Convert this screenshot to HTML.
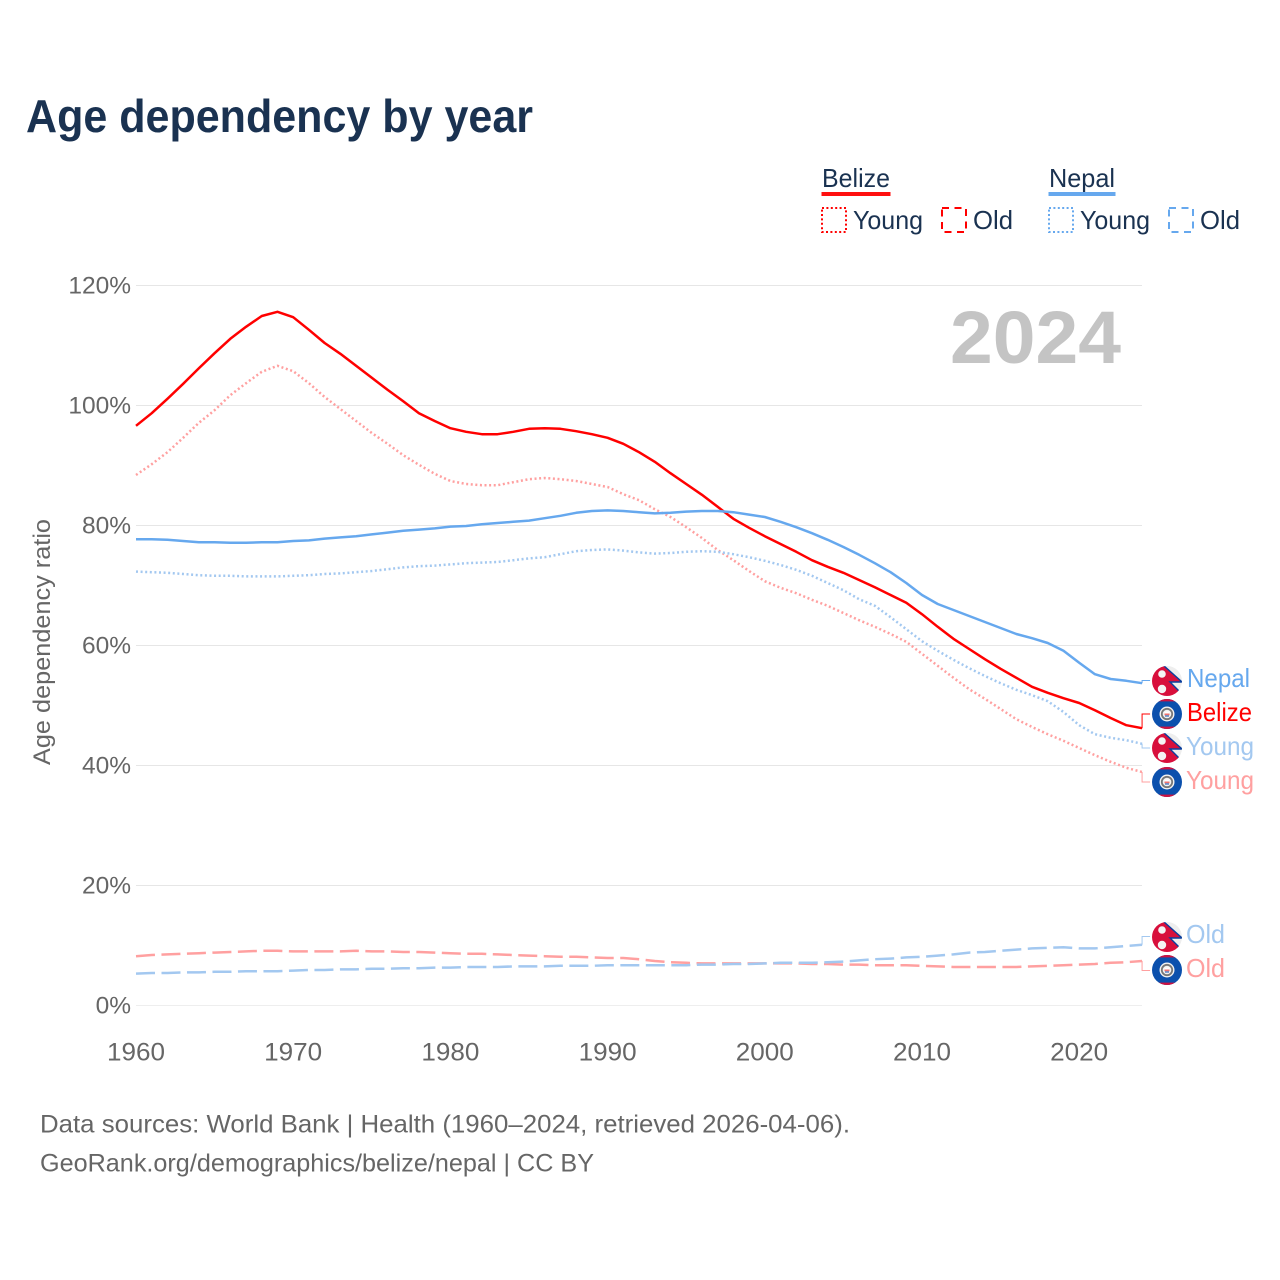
<!DOCTYPE html>
<html lang="en">
<head>
<meta charset="utf-8">
<title>Age dependency by year</title>
<style>
html,body{margin:0;padding:0;background:#fff;}
svg{display:block;font-family:"Liberation Sans",sans-serif;}
</style>
</head>
<body>
<svg id="chart" xmlns="http://www.w3.org/2000/svg" width="1280" height="1280" viewBox="0 0 1280 1280">
  <defs>
    <clipPath id="flag-clip"><circle cx="0" cy="0" r="15"/></clipPath>
    <g id="flag-nepal" clip-path="url(#flag-clip)">
      <rect x="-16" y="-16" width="32" height="32" fill="#eeeeee"/>
      <polygon points="-16,-16 -4,-16 15,1 3,1 15,13 15,16 -16,16" fill="#d80f3c" stroke="#0a3f9e" stroke-width="1.4"/>
      <circle cx="-5" cy="-7" r="3.8" fill="#f4f4f4"/>
      <circle cx="-5" cy="8" r="4.2" fill="#f4f4f4"/>
    </g>
    <g id="flag-belize" clip-path="url(#flag-clip)">
      <rect x="-16" y="-16" width="32" height="32" fill="#0b50ad"/>
      <rect x="-16" y="-16" width="32" height="3.4" fill="#ce1140"/>
      <rect x="-16" y="12.6" width="32" height="3.4" fill="#ce1140"/>
      <circle cx="0" cy="0" r="7.5" fill="#f2f2f2"/>
      <circle cx="0" cy="0" r="5.2" fill="none" stroke="#777777" stroke-width="1.8"/>
      <rect x="-2.5" y="-2.5" width="5" height="2" fill="#ffffff"/>
      <rect x="-2.5" y="-0.5" width="5" height="1.8" fill="#f0726c"/>
      <rect x="-2" y="1.3" width="4" height="1.4" fill="#4f7fc8"/>
    </g>
  </defs>

  <rect x="0" y="0" width="1280" height="1280" fill="#ffffff"/>

  <text x="26" y="132" font-size="46" font-weight="700" fill="#1a3251" textLength="507" lengthAdjust="spacingAndGlyphs">Age dependency by year</text>

  <g>
    <text x="822" y="187" font-size="26" fill="#1a3251" textLength="68" lengthAdjust="spacingAndGlyphs">Belize</text>
    <rect x="821.5" y="192" width="69" height="4" fill="#ff0f0f"/>
    <rect x="822" y="208" width="24" height="24" fill="none" stroke="#ff0000" stroke-width="2" stroke-dasharray="2 2.4"/>
    <text x="853" y="229" font-size="26" fill="#1a3251" textLength="70" lengthAdjust="spacingAndGlyphs">Young</text>
    <rect x="942" y="208" width="24" height="24" fill="none" stroke="#ff0000" stroke-width="2" stroke-dasharray="7 5.5"/>
    <text x="973" y="229" font-size="26" fill="#1a3251" textLength="40" lengthAdjust="spacingAndGlyphs">Old</text>
    <text x="1049" y="187" font-size="26" fill="#1a3251" textLength="66" lengthAdjust="spacingAndGlyphs">Nepal</text>
    <rect x="1048.5" y="192" width="67" height="4" fill="#66a8ee"/>
    <rect x="1049" y="208" width="24" height="24" fill="none" stroke="#66a8ee" stroke-width="2" stroke-dasharray="2 2.4"/>
    <text x="1080" y="229" font-size="26" fill="#1a3251" textLength="70" lengthAdjust="spacingAndGlyphs">Young</text>
    <rect x="1169" y="208" width="24" height="24" fill="none" stroke="#66a8ee" stroke-width="2" stroke-dasharray="7 5.5"/>
    <text x="1200" y="229" font-size="26" fill="#1a3251" textLength="40" lengthAdjust="spacingAndGlyphs">Old</text>
  </g>

  <g id="grid"></g>
  <g id="y-ticks"></g>
  <g id="x-ticks"></g>

  <text transform="translate(50,765) rotate(-90)" x="0" y="0" font-size="24" fill="#666666" textLength="246" lengthAdjust="spacingAndGlyphs">Age dependency ratio</text>

  <text x="950" y="363" font-size="74" font-weight="700" fill="#c4c4c4" textLength="171" lengthAdjust="spacingAndGlyphs">2024</text>

  <g id="series"></g>

  <g>
    <use href="#flag-nepal" x="1167" y="681"/>
    <use href="#flag-belize" x="1167" y="714"/>
    <use href="#flag-nepal" x="1167" y="748"/>
    <use href="#flag-belize" x="1167" y="782"/>
    <use href="#flag-nepal" x="1167" y="937"/>
    <use href="#flag-belize" x="1167" y="970"/>
  </g>

  <g>
    <text x="1187" y="687" font-size="26" fill="#66a8ee" textLength="63" lengthAdjust="spacingAndGlyphs">Nepal</text>
    <text x="1187" y="721" font-size="26" fill="#ff0000" textLength="65" lengthAdjust="spacingAndGlyphs">Belize</text>
    <text x="1186" y="755" font-size="26" fill="#a3c8f0" textLength="68" lengthAdjust="spacingAndGlyphs">Young</text>
    <text x="1186" y="789" font-size="26" fill="#ffa0a0" textLength="68" lengthAdjust="spacingAndGlyphs">Young</text>
    <text x="1186" y="943" font-size="26" fill="#a3c8f0" textLength="39" lengthAdjust="spacingAndGlyphs">Old</text>
    <text x="1186" y="977" font-size="26" fill="#ffa0a0" textLength="39" lengthAdjust="spacingAndGlyphs">Old</text>
  </g>

  <text x="40" y="1132.5" font-size="25" fill="#666666" textLength="810" lengthAdjust="spacingAndGlyphs">Data sources: World Bank | Health (1960–2024, retrieved 2026-04-06).</text>
  <text x="40" y="1171.5" font-size="25" fill="#666666" textLength="554" lengthAdjust="spacingAndGlyphs">GeoRank.org/demographics/belize/nepal | CC BY</text>
</svg>

<script>
const startYear = 1960;
const yTickValues = [0, 20, 40, 60, 80, 100, 120];
const yTickLabels = ["0%", "20%", "40%", "60%", "80%", "100%", "120%"];
const xTickValues = [1960, 1970, 1980, 1990, 2000, 2010, 2020];
const xTickLabels = ["1960", "1970", "1980", "1990", "2000", "2010", "2020"];

const belizeTotal = [96.7,98.8,101.2,103.7,106.3,108.8,111.2,113.2,115,115.7,114.8,112.7,110.5,108.7,106.7,104.7,102.7,100.8,98.8,97.5,96.3,95.7,95.3,95.3,95.7,96.2,96.3,96.2,95.8,95.3,94.7,93.7,92.3,90.7,88.8,87,85.2,83.2,81.2,79.7,78.3,77,75.7,74.3,73.2,72.2,71,69.8,68.5,67.2,65.3,63.2,61.2,59.5,57.8,56.2,54.7,53.2,52.2,51.3,50.5,49.3,48,46.8,46.3];
const nepalTotal = [77.8,77.8,77.7,77.5,77.3,77.3,77.2,77.2,77.3,77.3,77.5,77.6,77.9,78.1,78.3,78.6,78.9,79.2,79.4,79.6,79.9,80,80.3,80.5,80.7,80.9,81.3,81.7,82.2,82.5,82.6,82.5,82.3,82.1,82.2,82.4,82.5,82.5,82.3,81.9,81.5,80.7,79.8,78.8,77.7,76.5,75.2,73.8,72.3,70.5,68.5,67,66,65,64,63,62,61.3,60.5,59.2,57.2,55.3,54.5,54.2,53.8];
const belizeYoung = [88.5,90.3,92.3,94.7,97.2,99.3,101.8,103.8,105.7,106.7,105.8,103.8,101.5,99.5,97.5,95.5,93.7,91.8,90.2,88.7,87.5,87,86.8,86.8,87.3,87.8,88,87.8,87.5,87,86.5,85.3,84.3,82.8,81.5,79.8,78,76,74.3,72.5,70.8,69.7,68.8,67.7,66.7,65.5,64.3,63.2,62,60.7,58.7,56.7,54.7,52.8,51.2,49.5,47.8,46.5,45.3,44.2,43,41.8,40.7,39.7,39];
const nepalYoung = [72.4,72.3,72.2,72,71.8,71.7,71.7,71.6,71.6,71.6,71.7,71.8,72,72.1,72.3,72.5,72.8,73.1,73.3,73.4,73.6,73.8,73.9,74,74.3,74.6,74.8,75.3,75.8,76,76.1,75.9,75.6,75.4,75.5,75.7,75.8,75.7,75.3,74.8,74.2,73.5,72.7,71.7,70.5,69.3,67.8,66.7,64.8,62.8,60.8,59.2,57.7,56.3,55,53.8,52.7,51.8,50.8,49,46.8,45.3,44.7,44.3,43.7];
const belizeOld = [8.3,8.5,8.6,8.7,8.8,8.9,9,9.1,9.2,9.2,9.1,9.1,9.1,9.1,9.2,9.1,9.1,9,9,8.9,8.8,8.7,8.7,8.6,8.5,8.4,8.3,8.2,8.2,8.1,8,8,7.8,7.5,7.3,7.2,7.1,7.1,7.1,7.1,7.1,7.1,7.1,7,7,6.9,6.9,6.8,6.8,6.8,6.7,6.6,6.5,6.5,6.5,6.5,6.5,6.6,6.7,6.8,6.9,7,7.2,7.3,7.5];
const nepalOld = [5.4,5.5,5.5,5.6,5.6,5.7,5.7,5.8,5.8,5.8,5.9,6,6,6.1,6.1,6.2,6.2,6.3,6.3,6.4,6.4,6.5,6.5,6.5,6.6,6.6,6.6,6.7,6.7,6.7,6.8,6.8,6.8,6.8,6.8,6.8,6.9,6.9,7,7,7.1,7.2,7.2,7.2,7.3,7.4,7.6,7.8,7.9,8.1,8.2,8.4,8.6,8.9,9,9.2,9.4,9.6,9.7,9.8,9.6,9.6,9.8,10,10.2];

const SVG_NS = "http://www.w3.org/2000/svg";
function xScale(year) { return 136 + (year - startYear) * 15.72; }
function yScale(value) { return 1006 - value * 6; }

const grid = document.getElementById("grid");
const yTicks = document.getElementById("y-ticks");
const xTicks = document.getElementById("x-ticks");
const series = document.getElementById("series");

yTickValues.forEach(function (v, i) {
  const line = document.createElementNS(SVG_NS, "line");
  
  
  line.setAttribute("x1", 136);
  line.setAttribute("x2", 1142);
  line.setAttribute("y1", yScale(v) - 0.5);
  line.setAttribute("y2", yScale(v) - 0.5);
  line.setAttribute("stroke", v === 0 ? "#eeeeee" : "#e6e6e6");
  line.setAttribute("stroke-width", 1);
  grid.appendChild(line);

  const t = document.createElementNS(SVG_NS, "text");
  
  
  t.setAttribute("x", 131);
  t.setAttribute("y", yScale(v) + 7.5);
  t.setAttribute("text-anchor", "end");
  t.setAttribute("font-size", 24.5);
  t.setAttribute("fill", "#666666");
  t.textContent = yTickLabels[i];
  yTicks.appendChild(t);
});

xTickValues.forEach(function (v, i) {
  const t = document.createElementNS(SVG_NS, "text");
  
  
  t.setAttribute("x", xScale(v) - 29);
  t.setAttribute("y", 1060.5);
  t.setAttribute("font-size", 25);
  t.setAttribute("fill", "#666666");
  t.setAttribute("textLength", 58);
  t.setAttribute("lengthAdjust", "spacingAndGlyphs");
  t.textContent = xTickLabels[i];
  xTicks.appendChild(t);
});

function drawSeries(name, values, color, width, dash, labelY) {
  const pts = values.map(function (v, i) {
    return xScale(startYear + i).toFixed(2) + "," + yScale(v).toFixed(2);
  });
  const line = document.createElementNS(SVG_NS, "polyline");
  
  
  line.setAttribute("data-series", name);
  line.setAttribute("points", pts.join(" "));
  line.setAttribute("fill", "none");
  line.setAttribute("stroke", color);
  line.setAttribute("stroke-width", width);
  line.setAttribute("stroke-linejoin", "round");
  if (dash) line.setAttribute("stroke-dasharray", dash);
  series.appendChild(line);

  const endX = xScale(startYear + values.length - 1);
  const endY = yScale(values[values.length - 1]);
  const conn = document.createElementNS(SVG_NS, "polyline");
  
  
  conn.setAttribute("points", endX + "," + endY + " " + endX + "," + labelY + " " + (endX + 8) + "," + labelY);
  conn.setAttribute("fill", "none");
  conn.setAttribute("stroke", color);
  conn.setAttribute("stroke-width", 1);
  series.appendChild(conn);
}

drawSeries("belize-old", belizeOld, "#ffa0a0", 2.5, "19 6.5", 970.5);
drawSeries("nepal-old", nepalOld, "#a3c8f0", 2.5, "19 6.5", 936.5);
drawSeries("belize-young", belizeYoung, "#ffa0a0", 2.5, "2 2.6", 782);
drawSeries("nepal-young", nepalYoung, "#a3c8f0", 2.5, "2 2.6", 748);
drawSeries("belize-total", belizeTotal, "#ff0000", 2.5, null, 714);
drawSeries("nepal-total", nepalTotal, "#66a8ee", 2.5, null, 680.5);
</script>
</body>
</html>
